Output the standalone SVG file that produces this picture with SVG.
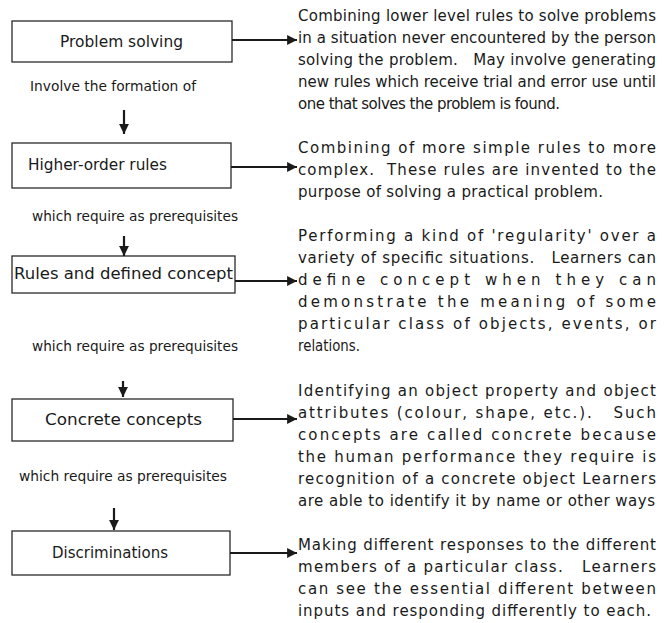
<svg xmlns="http://www.w3.org/2000/svg" width="665" height="623" viewBox="0 0 665 623">
<defs>
<marker id="ah" viewBox="0 0 10 10" refX="10" refY="5" markerWidth="5" markerHeight="4.5" markerUnits="strokeWidth" orient="auto">
<path d="M0,0 L10,5 L0,10 z" fill="#1a1a1a"/>
</marker>
<style>
.box{fill:#fff;stroke:#2a2a2a;stroke-width:1.3}
.lbl{font-family:"DejaVu Sans",sans-serif;font-size:15.5px;fill:#1a1a1a;white-space:pre}
.note{font-family:"DejaVu Sans",sans-serif;font-size:13.5px;fill:#1a1a1a;white-space:pre}
.desc{font-family:"DejaVu Sans",sans-serif;font-size:15px;fill:#1a1a1a;white-space:pre}
.arr{fill:none;stroke:#1a1a1a;stroke-width:2.2;marker-end:url(#ah)}
</style>
</defs>
<rect width="665" height="623" fill="#fff"/>

<g id="node-problem-solving">
<rect class="box" x="12" y="21" width="220" height="41"/>
<text class="lbl" x="60" y="47" textLength="123" lengthAdjust="spacingAndGlyphs">Problem solving</text>
</g>
<g id="node-higher-order-rules">
<rect class="box" x="12" y="143" width="219" height="45"/>
<text class="lbl" x="28" y="170" textLength="139" lengthAdjust="spacingAndGlyphs">Higher-order rules</text>
</g>
<g id="node-rules-defined">
<rect class="box" x="12" y="256" width="223" height="37"/>
<text class="lbl" x="14" y="279" textLength="219" lengthAdjust="spacingAndGlyphs">Rules and defined concept</text>
</g>
<g id="node-concrete">
<rect class="box" x="12" y="399" width="221" height="42"/>
<text class="lbl" x="45" y="425" textLength="157" lengthAdjust="spacingAndGlyphs">Concrete concepts</text>
</g>
<g id="node-discriminations">
<rect class="box" x="12" y="531" width="218" height="44"/>
<text class="lbl" x="52" y="558" textLength="116" lengthAdjust="spacingAndGlyphs">Discriminations</text>
</g>

<g id="labels">
<text class="note" x="30" y="91" textLength="166" lengthAdjust="spacingAndGlyphs">Involve the formation of</text>
<text class="note" x="32" y="221" textLength="206" lengthAdjust="spacingAndGlyphs">which require as prerequisites</text>
<text class="note" x="32" y="351" textLength="206" lengthAdjust="spacingAndGlyphs">which require as prerequisites</text>
<text class="note" x="19" y="481" textLength="208" lengthAdjust="spacingAndGlyphs">which require as prerequisites</text>
</g>

<g id="connectors">
<line class="arr" x1="124" y1="110" x2="124" y2="134"/>
<line class="arr" x1="124" y1="236" x2="124" y2="256"/>
<line class="arr" x1="123" y1="381" x2="123" y2="397"/>
<line class="arr" x1="114" y1="508" x2="114" y2="530"/>
<line class="arr" x1="232" y1="40" x2="297" y2="40"/>
<line class="arr" x1="231" y1="167" x2="297" y2="167"/>
<line class="arr" x1="235" y1="281" x2="297" y2="281"/>
<line class="arr" x1="233" y1="419" x2="297" y2="419"/>
<line class="arr" x1="230" y1="553" x2="297" y2="553"/>
</g>

<g id="desc-problem-solving">
<text class="desc" x="298" y="21" textLength="358" lengthAdjust="spacing">Combining lower level rules to solve problems</text>
<text class="desc" x="298" y="43" textLength="358" lengthAdjust="spacing">in a situation never encountered by the person</text>
<text class="desc" x="298" y="65" textLength="358" lengthAdjust="spacing">solving the problem.   May involve generating</text>
<text class="desc" x="298" y="87" textLength="358" lengthAdjust="spacing">new rules which receive trial and error use until</text>
<text class="desc" x="298" y="109" textLength="262" lengthAdjust="spacing">one that solves the problem is found.</text>
</g>
<g id="desc-higher-order-rules">
<text class="desc" x="298" y="153" textLength="358" lengthAdjust="spacing">Combining of more simple rules to more</text>
<text class="desc" x="298" y="175" textLength="358" lengthAdjust="spacing">complex.  These rules are invented to the</text>
<text class="desc" x="298" y="197" textLength="305" lengthAdjust="spacing">purpose of solving a practical problem.</text>
</g>
<g id="desc-rules-defined">
<text class="desc" x="298" y="241" textLength="358" lengthAdjust="spacing">Performing a kind of 'regularity' over a</text>
<text class="desc" x="298" y="263" textLength="358" lengthAdjust="spacing">variety of specific situations.   Learners can</text>
<text class="desc" x="298" y="285" textLength="358" lengthAdjust="spacing">define concept when they can</text>
<text class="desc" x="298" y="307" textLength="358" lengthAdjust="spacing">demonstrate the meaning of some</text>
<text class="desc" x="298" y="329" textLength="358" lengthAdjust="spacing">particular class of objects, events, or</text>
<text class="desc" x="298" y="351" textLength="62" lengthAdjust="spacingAndGlyphs">relations.</text>
</g>
<g id="desc-concrete">
<text class="desc" x="298" y="396" textLength="358" lengthAdjust="spacing">Identifying an object property and object</text>
<text class="desc" x="298" y="418" textLength="358" lengthAdjust="spacing">attributes (colour, shape, etc.).   Such</text>
<text class="desc" x="298" y="440" textLength="358" lengthAdjust="spacing">concepts are called concrete because</text>
<text class="desc" x="298" y="462" textLength="358" lengthAdjust="spacing">the human performance they require is</text>
<text class="desc" x="298" y="484" textLength="358" lengthAdjust="spacing">recognition of a concrete object Learners</text>
<text class="desc" x="298" y="506" textLength="357" lengthAdjust="spacing">are able to identify it by name or other ways</text>
</g>
<g id="desc-discriminations">
<text class="desc" x="298" y="550" textLength="358" lengthAdjust="spacing">Making different responses to the different</text>
<text class="desc" x="298" y="572" textLength="358" lengthAdjust="spacing">members of a particular class.   Learners</text>
<text class="desc" x="298" y="594" textLength="358" lengthAdjust="spacing">can see the essential different between</text>
<text class="desc" x="298" y="616" textLength="353" lengthAdjust="spacing">inputs and responding differently to each.</text>
</g>
</svg>
